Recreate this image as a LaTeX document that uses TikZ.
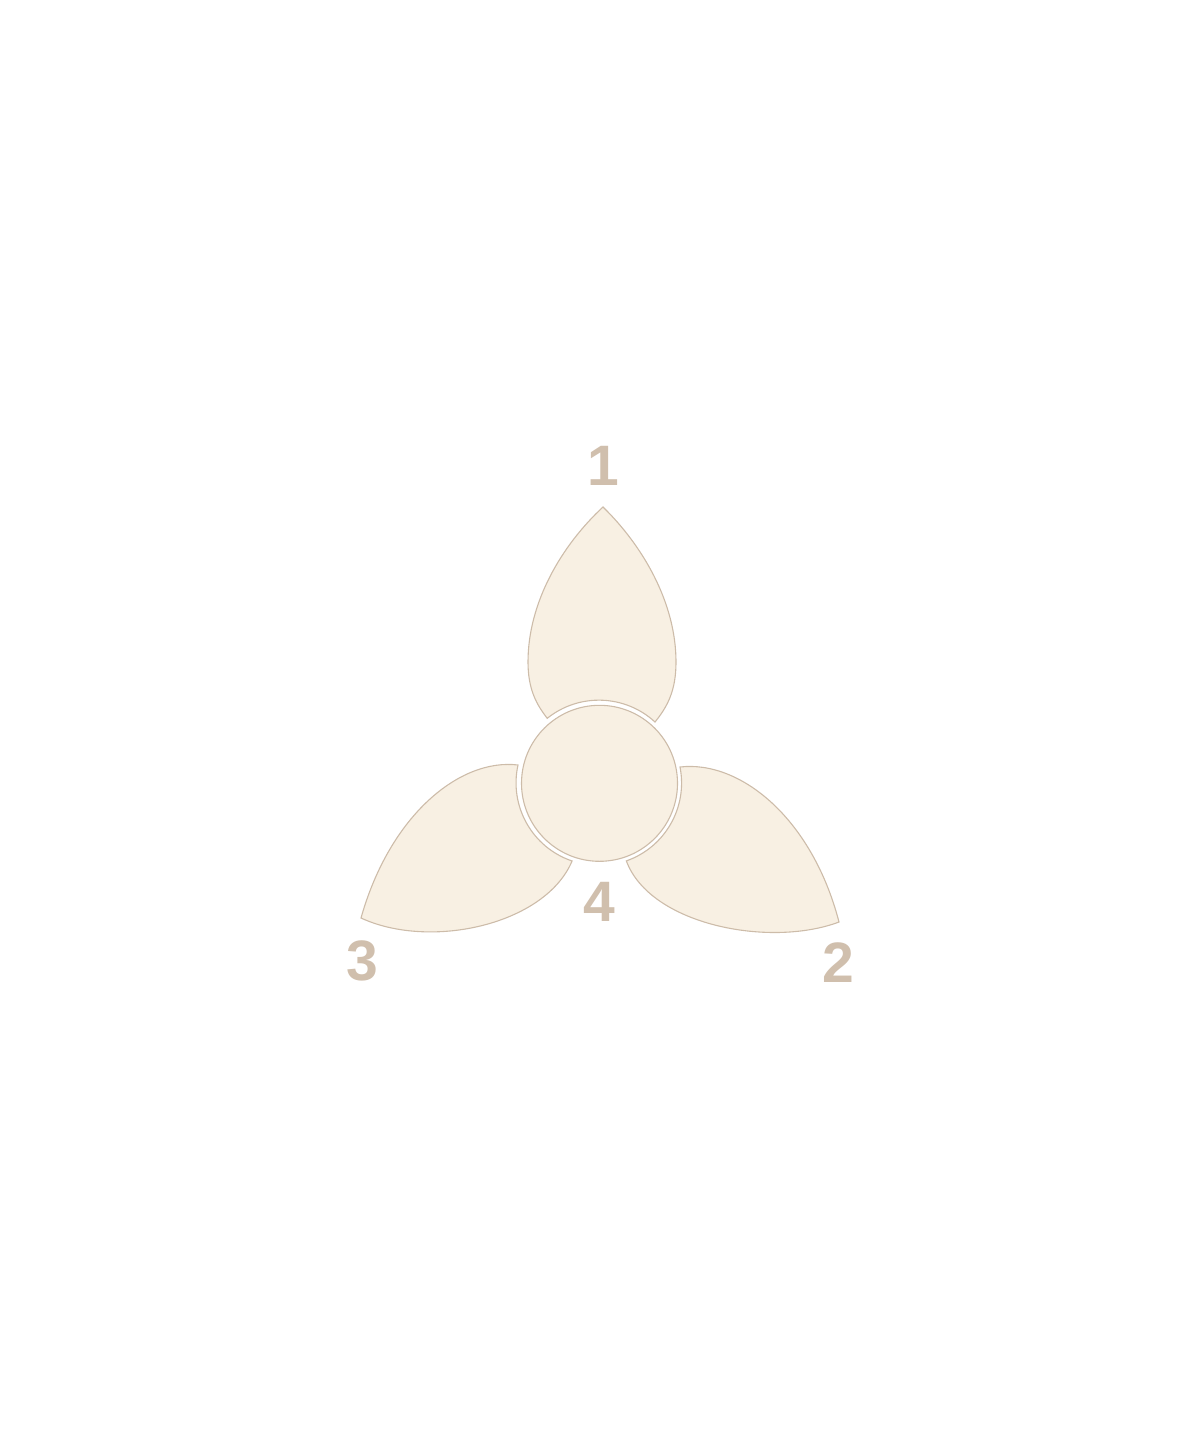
\documentclass[tikz,border=0pt]{standalone}
\usepackage{fontspec}
\newfontfamily\labelfont{Liberation Sans}
\definecolor{petalfill}{HTML}{F8F0E3}
\definecolor{petalline}{HTML}{CDBCA9}
\definecolor{labelcol}{HTML}{D0BFAD}
\begin{document}
\begin{tikzpicture}[x=0.5pt,y=-0.5pt,
    petal/.style={fill=petalfill,draw=petalline,line width=0.55pt},
    num/.style={text=labelcol,font=\labelfont\bfseries\fontsize{28.5}{30}\selectfont,inner sep=0pt}]
            \useasboundingbox (0,0) rectangle (1200,1440);

            % petals
            \filldraw[petal] (547,718) .. controls (537,705) and (528,690) .. (528,662)
                .. controls (528,602) and (562,545) .. (603,507)
                .. controls (642,545) and (676,602) .. (676,662)
                .. controls (676,690) and (668,706) .. (655,722)
                arc[start angle=-47.4, end angle=-128.7, radius=82.8] -- cycle;
            \filldraw[petal] (839,922) .. controls (812,818) and (740,760) .. (680,767)
                arc[start angle=-11.2, end angle=70.7, radius=82.5]
                .. controls (650,925) and (770,948) .. (839,922) -- cycle;
            \filldraw[petal] (361,918) .. controls (390,815) and (460,758) .. (518,765)
                arc[start angle=192.5, end angle=108.7, radius=82.5]
                .. controls (545,925) and (430,950) .. (361,918) -- cycle;

            % hub
            \node[shape=circle,petal,minimum size=78pt,inner sep=0pt] (hub) at (599.5,783.3) {};

            % labels
            \node[num] (n1) at (603,466) {1};
            \node[num] (n2) at (838,963) {2};
            \node[num] (n3) at (362,961) {3};
            \node[num] (n4) at (599,902) {4};
        \end{tikzpicture}
\end{document}
